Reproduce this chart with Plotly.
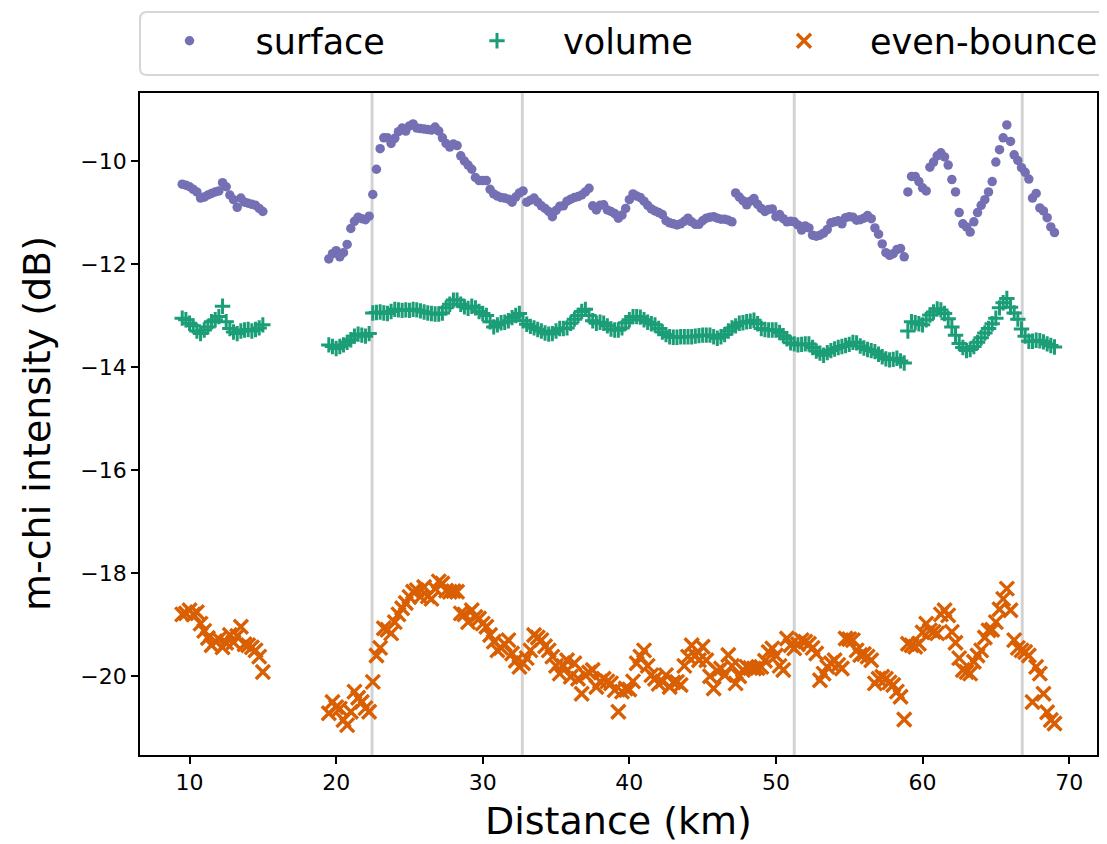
import plotly.graph_objects as go

# ---------------- data ----------------
DIST_A = [9.5, 9.75, 10.0, 10.25, 10.5, 10.75, 11.0, 11.25, 11.5, 11.75, 12.0, 12.25,
          12.5, 12.75, 13.0, 13.25, 13.5, 13.75, 14.0, 14.25, 14.5, 14.75, 15.0]
DIST_B = [19.5, 19.75,
          20.0, 20.25, 20.5, 20.75, 21.0, 21.25, 21.5, 21.75, 22.0, 22.25, 22.5, 22.75, 23.0, 23.25, 23.5, 23.75, 24.0, 24.25, 24.5, 24.75,
          25.0, 25.25, 25.5, 25.75, 26.0, 26.25, 26.5, 26.75, 27.0, 27.25, 27.5, 27.75, 28.0, 28.25, 28.5, 28.75, 29.0, 29.25, 29.5, 29.75,
          30.0, 30.25, 30.5, 30.75, 31.0, 31.25, 31.5, 31.75, 32.0, 32.25, 32.5, 32.75, 33.0, 33.25, 33.5, 33.75, 34.0, 34.25, 34.5, 34.75,
          35.0, 35.25, 35.5, 35.75, 36.0, 36.25, 36.5, 36.75, 37.0, 37.25, 37.5, 37.75, 38.0, 38.25, 38.5, 38.75, 39.0, 39.25, 39.5, 39.75,
          40.0, 40.25, 40.5, 40.75, 41.0, 41.25, 41.5, 41.75, 42.0, 42.25, 42.5, 42.75, 43.0, 43.25, 43.5, 43.75, 44.0, 44.25, 44.5, 44.75,
          45.0, 45.25, 45.5, 45.75, 46.0, 46.25, 46.5, 46.75, 47.0, 47.25, 47.5, 47.75, 48.0, 48.25, 48.5, 48.75, 49.0, 49.25, 49.5, 49.75,
          50.0, 50.25, 50.5, 50.75, 51.0, 51.25, 51.5, 51.75, 52.0, 52.25, 52.5, 52.75, 53.0, 53.25, 53.5, 53.75, 54.0, 54.25, 54.5, 54.75,
          55.0, 55.25, 55.5, 55.75, 56.0, 56.25, 56.5, 56.75, 57.0, 57.25, 57.5, 57.75, 58.0, 58.25, 58.5, 58.75, 59.0, 59.25, 59.5, 59.75,
          60.0, 60.25, 60.5, 60.75, 61.0, 61.25, 61.5, 61.75, 62.0, 62.25, 62.5, 62.75, 63.0, 63.25, 63.5, 63.75, 64.0, 64.25, 64.5, 64.75,
          65.0, 65.25, 65.5, 65.75, 66.0, 66.25, 66.5, 66.75, 67.0, 67.25, 67.5, 67.75, 68.0, 68.25, 68.5, 68.75, 69.0]

SURFACE_A = [-10.45, -10.47, -10.50, -10.55, -10.60, -10.72, -10.70, -10.66, -10.63, -10.60, -10.58, -10.42,
             -10.50, -10.66, -10.75, -10.90, -10.72, -10.80, -10.82, -10.84, -10.86, -10.92, -10.98]
SURFACE_B = [-11.90, -11.80,
             -11.74, -11.86, -11.78, -11.62, -11.31, -11.17, -11.09, -11.12, -11.14, -11.07, -10.65, -10.16, -9.76, -9.55, -9.55, -9.66, -9.56, -9.43, -9.36, -9.42,
             -9.32, -9.28, -9.36, -9.37, -9.38, -9.39, -9.40, -9.34, -9.42, -9.55, -9.66, -9.73, -9.67, -9.70, -9.90, -10.00, -10.08, -10.16, -10.32, -10.38,
             -10.38, -10.38, -10.55, -10.64, -10.68, -10.71, -10.72, -10.74, -10.80, -10.70, -10.62, -10.58, -10.80, -10.76, -10.72, -10.80, -10.87, -10.92, -10.98, -11.08,
             -10.96, -10.88, -10.87, -10.78, -10.74, -10.71, -10.69, -10.66, -10.60, -10.53, -10.87, -10.95, -10.86, -10.85, -10.95, -10.98, -11.02, -11.11, -11.05, -10.92,
             -10.75, -10.64, -10.68, -10.71, -10.78, -10.86, -10.93, -10.97, -11.00, -11.04, -11.16, -11.20, -11.22, -11.24, -11.22, -11.17, -11.11, -11.18, -11.23, -11.23,
             -11.16, -11.11, -11.09, -11.08, -11.11, -11.13, -11.13, -11.15, -11.18, -10.62, -10.70, -10.77, -10.85, -10.78, -10.73, -10.84, -10.92, -10.98, -10.94, -10.93,
             -11.08, -11.04, -11.12, -11.18, -11.17, -11.18, -11.24, -11.34, -11.26, -11.30, -11.44, -11.46, -11.44, -11.40, -11.33, -11.20, -11.18, -11.16, -11.22, -11.10,
             -11.08, -11.09, -11.15, -11.14, -11.11, -11.06, -11.12, -11.30, -11.42, -11.61, -11.78, -11.83, -11.80, -11.72, -11.70, -11.86, -10.60, -10.30, -10.30, -10.40,
             -10.52, -10.58, -10.12, -10.02, -9.90, -9.84, -9.92, -10.08, -10.36, -10.60, -11.00, -11.22, -11.28, -11.38, -11.18, -11.00, -10.86, -10.75, -10.60, -10.40,
             -10.02, -9.78, -9.55, -9.30, -9.62, -9.88, -9.99, -10.13, -10.22, -10.35, -10.72, -10.63, -10.91, -10.97, -11.10, -11.28, -11.39]

VOLUME_A = [-13.05, -13.08, -13.15, -13.20, -13.30, -13.35, -13.28, -13.22, -13.12, -13.08, -13.02, -12.82,
            -13.12, -13.25, -13.32, -13.35, -13.30, -13.28, -13.27, -13.30, -13.27, -13.24, -13.18]
VOLUME_B = [-13.57, -13.60,
            -13.64, -13.60, -13.57, -13.52, -13.47, -13.40, -13.36, -13.38, -13.40, -13.35, -12.95, -12.94, -12.93, -12.95, -12.96, -12.92, -12.88, -12.89, -12.90, -12.89,
            -12.90, -12.88, -12.89, -12.91, -12.93, -12.95, -12.96, -12.97, -12.97, -12.95, -12.85, -12.78, -12.70, -12.70, -12.78, -12.83, -12.86, -12.82, -12.85, -12.92,
            -12.96, -13.00, -13.12, -13.22, -13.18, -13.14, -13.13, -13.10, -13.04, -13.00, -12.96, -13.10, -13.17, -13.21, -13.24, -13.27, -13.30, -13.34, -13.36, -13.35,
            -13.30, -13.25, -13.25, -13.24, -13.15, -13.07, -13.00, -12.92, -12.88, -13.00, -13.10, -13.15, -13.13, -13.15, -13.20, -13.26, -13.28, -13.28, -13.24, -13.14,
            -13.08, -13.02, -13.02, -13.03, -13.08, -13.13, -13.16, -13.18, -13.25, -13.32, -13.37, -13.41, -13.42, -13.42, -13.41, -13.41, -13.41, -13.41, -13.40, -13.39,
            -13.38, -13.38, -13.38, -13.41, -13.44, -13.41, -13.37, -13.30, -13.24, -13.20, -13.15, -13.14, -13.12, -13.11, -13.09, -13.16, -13.25, -13.27, -13.28, -13.28,
            -13.28, -13.33, -13.39, -13.45, -13.53, -13.55, -13.57, -13.56, -13.55, -13.55, -13.62, -13.69, -13.73, -13.77, -13.72, -13.68, -13.65, -13.62, -13.60, -13.58,
            -13.56, -13.52, -13.53, -13.59, -13.63, -13.66, -13.68, -13.70, -13.75, -13.80, -13.84, -13.86, -13.85, -13.83, -13.88, -13.92, -13.30, -13.12, -13.14, -13.16,
            -13.18, -13.08, -12.99, -12.93, -12.87, -12.89, -12.96, -13.06, -13.22, -13.38, -13.54, -13.62, -13.68, -13.66, -13.60, -13.52, -13.43, -13.34, -13.25, -13.16,
            -13.05, -12.85, -12.75, -12.67, -12.84, -12.95, -13.07, -13.26, -13.40, -13.50, -13.50, -13.48, -13.49, -13.51, -13.55, -13.58, -13.61]

EVEN_A = [-18.80, -18.78, -18.72, -18.80, -18.76, -18.98, -19.12, -19.26, -19.40, -19.32, -19.28, -19.44,
          -19.35, -19.20, -19.34, -19.22, -19.04, -19.38, -19.40, -19.44, -19.50, -19.62, -19.92]
EVEN_B = [-20.72, -20.50,
          -20.60, -20.63, -20.85, -20.95, -20.69, -20.30, -20.42, -20.50, -20.62, -20.69, -20.11, -19.60, -19.45, -19.07, -19.10, -19.17, -18.95, -18.80, -18.68, -18.58,
          -18.46, -18.36, -18.33, -18.46, -18.27, -18.45, -18.50, -18.30, -18.16, -18.20, -18.34, -18.36, -18.35, -18.36, -18.78, -18.80, -18.95, -18.72, -18.85, -18.88,
          -18.98, -19.04, -19.20, -19.33, -19.50, -19.45, -19.38, -19.30, -19.56, -19.70, -19.82, -19.75, -19.65, -19.50, -19.20, -19.25, -19.30, -19.42, -19.50, -19.62,
          -19.80, -19.95, -19.80, -19.69, -20.01, -19.75, -20.05, -20.34, -19.98, -19.93, -19.88, -20.21, -20.10, -20.05, -20.10, -20.14, -20.27, -20.69, -20.30, -20.24,
          -20.26, -20.10, -19.75, -19.62, -19.50, -19.80, -19.98, -20.05, -20.15, -20.10, -19.98, -20.21, -20.12, -20.11, -20.17, -19.80, -19.62, -19.40, -19.60, -19.69,
          -19.43, -19.69, -20.00, -20.24, -19.90, -19.85, -19.98, -19.59, -19.80, -20.14, -20.00, -19.88, -19.82, -19.84, -19.85, -19.84, -19.82, -19.70, -19.53, -19.46,
          -19.60, -19.80, -19.88, -19.27, -19.40, -19.46, -19.38, -19.30, -19.33, -19.37, -19.45, -19.56, -20.08, -19.95, -19.82, -19.75, -19.69, -19.78, -19.85, -19.27,
          -19.28, -19.30, -19.50, -19.59, -19.57, -19.62, -19.69, -20.14, -20.05, -20.01, -20.05, -20.12, -20.17, -20.30, -20.40, -20.84, -19.37, -19.40, -19.43, -19.37,
          -19.15, -18.98, -19.11, -19.14, -19.17, -18.80, -18.72, -18.82, -19.14, -19.35, -19.65, -19.88, -19.92, -19.95, -19.72, -19.60, -19.50, -19.25, -19.11, -19.10,
          -18.95, -18.70, -18.50, -18.30, -18.72, -19.30, -19.45, -19.50, -19.53, -19.60, -20.50, -19.82, -19.95, -20.34, -20.70, -20.85, -20.92]

BOUNDARIES_KM = [22.45, 32.7, 51.25, 66.8]
X_TICKS = [10, 20, 30, 40, 50, 60, 70]
Y_TICKS = [-20, -18, -16, -14, -12, -10]
SERIES_NAMES = ["surface", "volume", "even-bounce"]
X_TITLE = "Distance (km)"
Y_TITLE = "m-chi intensity (dB)"

# ---------------- layout geometry ----------------
# the page body has an 8px margin, so the figure starts at (8, 8) in the window;
# its right/bottom edges land on the window edges.
W, H = 1099, 836
ML, MR, MT, MB = 132, 10, 85, 89
PW, PH = W - ML - MR, H - MT - MB
FONT = "DejaVu Sans"
C_SURF, C_VOL, C_EVEN = "#7570b3", "#1b9e77", "#d95f02"


def px2x(p):
    return (p - ML) / PW


def py2y(p):
    return (H - MB - p) / PH


dist = DIST_A + DIST_B
surface = SURFACE_A + SURFACE_B
volume = VOLUME_A + VOLUME_B
even = EVEN_A + EVEN_B

fig = go.Figure()
fig.add_trace(go.Scatter(x=dist, y=surface, mode="markers", name=SERIES_NAMES[0], legend="legend",
                         marker=dict(symbol="circle", size=9.5, color=C_SURF, line=dict(width=0))))
fig.add_trace(go.Scatter(x=dist, y=volume, mode="markers", name=SERIES_NAMES[1], legend="legend2",
                         marker=dict(symbol="cross-thin", size=11, color=C_VOL,
                                     line=dict(width=3, color=C_VOL))))
fig.add_trace(go.Scatter(x=dist, y=even, mode="markers", name=SERIES_NAMES[2], legend="legend3",
                         marker=dict(symbol="x-thin", size=14, color=C_EVEN,
                                     line=dict(width=3.4, color=C_EVEN))))

shapes = []
for b in BOUNDARIES_KM:
    shapes.append(dict(type="line", xref="x", yref="paper", x0=b, x1=b, y0=0, y1=1,
                       line=dict(color="#d3d3d3", width=3), layer="below"))

# legend frame (rounded box running off the right edge, as in the reference)
lx0, lx1, ly0, ly1 = px2x(132), px2x(1125), py2y(67), py2y(4)
rx, ry = 7 / PW, 7 / PH
path = (f"M{lx0 + rx},{ly0} L{lx1 - rx},{ly0} Q{lx1},{ly0} {lx1},{ly0 + ry} "
        f"L{lx1},{ly1 - ry} Q{lx1},{ly1} {lx1 - rx},{ly1} L{lx0 + rx},{ly1} "
        f"Q{lx0},{ly1} {lx0},{ly1 - ry} L{lx0},{ly0 + ry} Q{lx0},{ly0} {lx0 + rx},{ly0} Z")
shapes.append(dict(type="path", xref="paper", yref="paper", path=path,
                   line=dict(color="#d6d6d6", width=2), fillcolor="white", layer="above"))

legend_common = dict(orientation="h", xanchor="left", yanchor="middle", y=py2y(33),
                     bgcolor="rgba(0,0,0,0)", borderwidth=0,
                     font=dict(family=FONT, size=35, color="black"),
                     itemwidth=122, itemsizing="trace")
SYMBOL_CENTERS = [181.5, 489, 796]   # in figure pixels

annotations = [
    dict(text=X_TITLE, xref="paper", yref="paper", x=0.5, y=py2y(813), xanchor="center",
         yanchor="middle", showarrow=False, font=dict(family=FONT, size=38, color="black")),
    dict(text=Y_TITLE, xref="paper", yref="paper", x=px2x(29), y=0.5, xanchor="center",
         yanchor="middle", textangle=-90, showarrow=False,
         font=dict(family=FONT, size=38, color="black")),
]

fig.update_layout(
    width=W, height=H, autosize=False,
    margin=dict(l=ML, r=MR, t=MT, b=MB, pad=0, autoexpand=False),
    paper_bgcolor="white", plot_bgcolor="white",
    font=dict(family=FONT, color="black", size=22),
    shapes=shapes,
    annotations=annotations,
    showlegend=True,
    legend=dict(x=px2x(SYMBOL_CENTERS[0] - 66), **legend_common),
    legend2=dict(x=px2x(SYMBOL_CENTERS[1] - 66), **legend_common),
    legend3=dict(x=px2x(SYMBOL_CENTERS[2] - 66), **legend_common),
)

fig.update_xaxes(range=[6.62, 71.9], tickvals=X_TICKS, ticks="outside", ticklen=7, tickwidth=1.6,
                 tickcolor="black", showline=True, linecolor="black", linewidth=1.6, mirror=True,
                 showgrid=False, zeroline=False, automargin=False, tickfont=dict(size=22, family=FONT))
fig.update_yaxes(range=[-21.53, -8.68], tickvals=Y_TICKS, ticks="outside", ticklen=7, tickwidth=1.6,
                 tickcolor="black", showline=True, linecolor="black", linewidth=1.6, mirror=True,
                 showgrid=False, zeroline=False, automargin=False, tickfont=dict(size=22, family=FONT))

fig.write_html("out.html")
